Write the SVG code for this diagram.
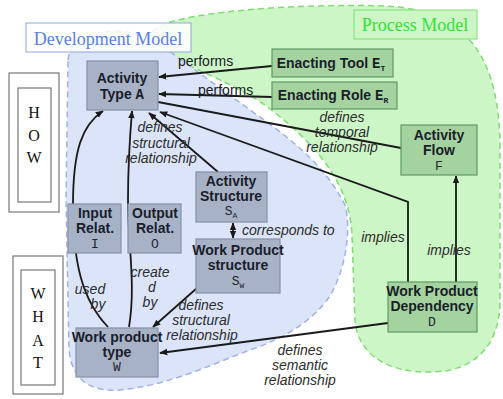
<svg xmlns="http://www.w3.org/2000/svg" width="503" height="399" viewBox="0 0 503 399">
<defs>
<marker id="ah" viewBox="0 0 10 10" refX="9" refY="5" markerWidth="4.5" markerHeight="4.5" orient="auto-start-reverse" markerUnits="strokeWidth">
<path d="M0,1 L10,5 L0,9 Z" fill="#1a1a1a"/>
</marker>
<style>
.blob-b{fill:#dbe4f8;stroke:#9fb3e3;stroke-width:1.5;stroke-dasharray:6 4}
.blob-g{fill:#cdf6c7;stroke:#7fdc72;stroke-width:1.5;stroke-dasharray:6 4}
.nb{fill:#a8b2c7;stroke:#858fa6;stroke-width:1.2}
.ng{fill:#a4d3a0;stroke:#5f9a5f;stroke-width:1.2}
.t{font-family:"Liberation Sans",Arial,sans-serif;font-weight:bold;font-size:14px;fill:#1a1e2a;text-anchor:middle}
.m{font-family:"Liberation Mono","Courier New",monospace;font-size:13px;fill:#22262f;text-anchor:middle}
.mb{font-family:"Liberation Mono","Courier New",monospace;font-weight:bold}
.sub{font-size:8px}
.lab{font-family:"Liberation Sans",Arial,sans-serif;font-style:italic;font-size:14px;fill:#2d2d2d;text-anchor:middle}
.labs{font-family:"Liberation Sans",Arial,sans-serif;font-style:italic;font-size:14px;fill:#2d2d2d;text-anchor:start}
.perf{font-family:"Liberation Sans",Arial,sans-serif;font-size:14px;fill:#1a1a1a}
.c{fill:none;stroke:#1a1a1a;stroke-width:1.8}
.side{fill:#fff;stroke:#777;stroke-width:1.2}
.sl{font-family:"Liberation Serif","Times New Roman",serif;font-size:16px;fill:#111;text-anchor:middle}
</style>
</defs>

<!-- regions -->
<path class="blob-g" d="M152,32 C165,12 300,3 385,6 C470,10 500,60 500,150 L500,300 C500,350 470,372 430,372 C385,373 357,352 355,320 L352,235 C350,190 325,150 265,105 C210,68 148,58 152,32 Z"/>
<path class="blob-b" d="M68,60 C70,40 95,30 118,31 C140,32 150,40 165,48 L250,110 C290,138 325,165 345,205 C352,230 345,275 327,300 C310,322 285,338 250,350 C210,365 170,385 120,390 C90,392 72,380 69,350 L66,200 Z"/>

<g id="dev-label">
<rect x="26" y="23" width="165" height="29" fill="#fff" fill-opacity="0.85" stroke="#8fa6df" stroke-width="1"/>
<text x="108" y="45" font-family="Liberation Serif,'Times New Roman',serif" font-size="18" fill="#5a7fe2" text-anchor="middle">Development Model</text>
</g>
<g id="proc-label">
<rect x="354" y="10" width="123" height="29" fill="#cdf6c7" stroke="#7fdc72" stroke-width="1"/>
<text x="415" y="31" font-family="Liberation Serif,'Times New Roman',serif" font-size="18" fill="#35e035" text-anchor="middle">Process Model</text>
</g>

<g id="how">
<rect class="side" x="9" y="73" width="50" height="139"/>
<rect class="side" x="18" y="88" width="33" height="114"/>
<text class="sl" x="34" y="118">H</text>
<text class="sl" x="34" y="141">O</text>
<text class="sl" x="34" y="163">W</text>
</g>
<g id="what">
<rect class="side" x="13" y="256" width="50" height="138"/>
<rect class="side" x="21" y="270" width="34" height="115"/>
<text class="sl" x="38" y="299">W</text>
<text class="sl" x="38" y="322">H</text>
<text class="sl" x="38" y="346">A</text>
<text class="sl" x="38" y="368">T</text>
</g>

<!-- connectors -->
<g id="connectors">
<line class="c" x1="272" y1="66" x2="159" y2="77" marker-end="url(#ah)"/>
<text class="perf" x="178" y="66">performs</text>
<line class="c" x1="272" y1="97" x2="159" y2="94" marker-end="url(#ah)"/>
<text class="perf" x="198" y="95">performs</text>
<line class="c" x1="401" y1="148" x2="158" y2="102"/>
<text class="lab" x="342" y="122">defines</text>
<text class="lab" x="342" y="137">temporal</text>
<text class="lab" x="342" y="152">relationship</text>
<polyline class="c" points="408,282 408,202 160,112" marker-end="url(#ah)"/>
<text class="lab" x="383" y="242">implies</text>
<line class="c" x1="456" y1="282" x2="456" y2="176" marker-end="url(#ah)"/>
<text class="lab" x="449" y="255">implies</text>
<line class="c" x1="388" y1="323" x2="160" y2="353" marker-end="url(#ah)"/>
<text class="lab" x="300" y="355">defines</text>
<text class="lab" x="300" y="370">semantic</text>
<text class="lab" x="300" y="385">relationship</text>
<line class="c" x1="197" y1="288" x2="153" y2="327" marker-end="url(#ah)"/>
<text class="lab" x="201" y="310">defines</text>
<text class="lab" x="201" y="325">structural</text>
<text class="lab" x="202" y="340">relationship</text>
<line class="c" x1="218" y1="172" x2="149" y2="113" marker-end="url(#ah)"/>
<text class="lab" x="160" y="132">defines</text>
<text class="lab" x="161" y="148">structural</text>
<text class="lab" x="161" y="163">relationship</text>
<line class="c" x1="233" y1="223" x2="233" y2="238" marker-start="url(#ah)" marker-end="url(#ah)"/>
<text class="labs" x="242" y="235">corresponds to</text>
<path class="c" d="M108,327 C82,300 73,262 73,205 C73,150 82,125 103,111" marker-end="url(#ah)"/>
<text class="lab" x="90" y="294">used</text>
<text class="lab" x="98" y="309">by</text>
<path class="c" d="M129,327 C136,285 128,245 128,200 C128,160 130,135 132,111" marker-end="url(#ah)"/>
<text class="lab" x="150" y="277">create</text>
<text class="lab" x="152" y="292">d</text>
<text class="lab" x="150" y="307">by</text>
</g>

<!-- nodes -->
<g id="activity-type">
<rect class="nb" x="87" y="61" width="71" height="49"/>
<text class="t" x="122" y="83">Activity</text>
<text class="t" x="122" y="99">Type <tspan class="mb">A</tspan></text>
</g>
<g id="enacting-tool">
<rect class="ng" x="272" y="49" width="121" height="28"/>
<text class="t" x="331" y="68">Enacting Tool <tspan class="mb">E</tspan><tspan class="mb sub" dy="3">T</tspan></text>
</g>
<g id="enacting-role">
<rect class="ng" x="272" y="82" width="125" height="27"/>
<text class="t" x="333" y="100">Enacting Role <tspan class="mb">E</tspan><tspan class="mb sub" dy="3">R</tspan></text>
</g>
<g id="activity-flow">
<rect class="ng" x="401" y="125" width="76" height="50"/>
<text class="t" x="439" y="140">Activity</text>
<text class="t" x="439" y="155">Flow</text>
<text class="m" x="439" y="170">F</text>
</g>
<g id="activity-structure">
<rect class="nb" x="196" y="172" width="71" height="50"/>
<text class="t" x="231" y="186">Activity</text>
<text class="t" x="231" y="201">Structure</text>
<text class="m" x="231" y="215">S<tspan class="sub" dy="3">A</tspan></text>
</g>
<g id="wp-structure">
<rect class="nb" x="196" y="239" width="84" height="54"/>
<text class="t" x="238" y="255">Work Product</text>
<text class="t" x="238" y="270">structure</text>
<text class="m" x="238" y="285">S<tspan class="sub" dy="3">W</tspan></text>
</g>
<g id="input-relat">
<rect class="nb" x="68" y="204" width="53" height="49"/>
<text class="t" x="95" y="218">Input</text>
<text class="t" x="95" y="233">Relat.</text>
<text class="m" x="95" y="248">I</text>
</g>
<g id="output-relat">
<rect class="nb" x="128" y="204" width="53" height="49"/>
<text class="t" x="155" y="218">Output</text>
<text class="t" x="155" y="233">Relat.</text>
<text class="m" x="155" y="248">O</text>
</g>
<g id="wp-type">
<rect class="nb" x="76" y="328" width="82" height="49"/>
<text class="t" x="117" y="342">Work product</text>
<text class="t" x="117" y="357">type</text>
<text class="m" x="117" y="371">W</text>
</g>
<g id="wp-dependency">
<rect class="ng" x="388" y="282" width="89" height="50"/>
<text class="t" x="432" y="296">Work Product</text>
<text class="t" x="432" y="311">Dependency</text>
<text class="m" x="432" y="326">D</text>
</g>
</svg>
